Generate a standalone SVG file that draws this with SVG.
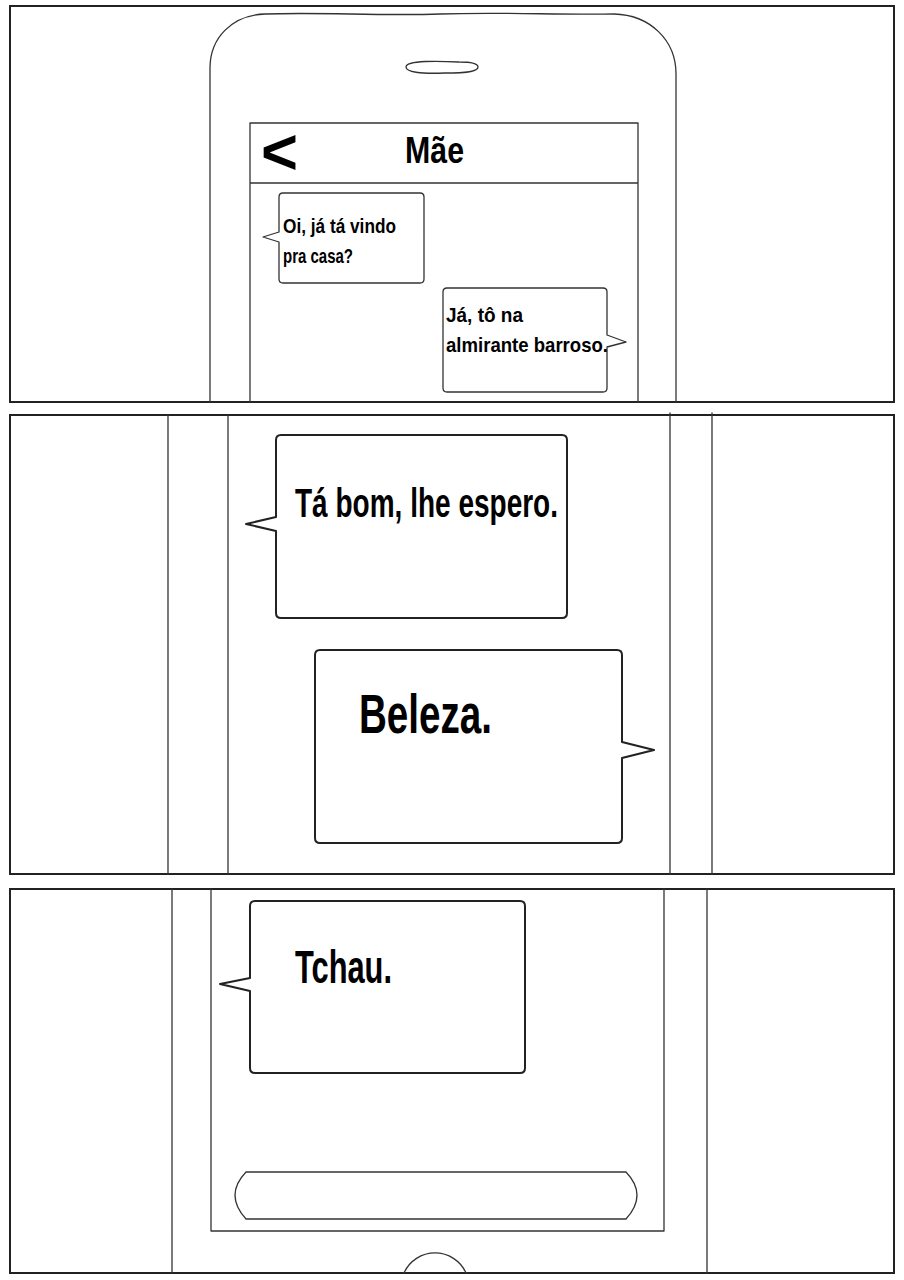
<svg xmlns="http://www.w3.org/2000/svg" width="904" height="1280" viewBox="0 0 904 1280">
<style>
.frame{fill:#fff;stroke:#222;stroke-width:2}
.phone{fill:none;stroke:#333;stroke-width:1.3;stroke-linecap:round;stroke-linejoin:round}
.bub{fill:#fff;stroke:#222;stroke-width:2;stroke-linejoin:round}
.bubs{fill:#fff;stroke:#333;stroke-width:1.3;stroke-linejoin:round}
.t{font-family:"Liberation Sans","DejaVu Sans",sans-serif;font-weight:bold;fill:#000}
</style>
<rect width="904" height="1280" fill="#fff"/>
<g id="panel1">
  <rect class="frame" x="10" y="6" width="884" height="396"/>
  <g id="phone1">
    <path class="phone" d="M210,402 V68 C210,38 232,15 265,14 C320,12 380,16 440,14 C500,12 560,15 614,14 C650,15 676,40 676,74 V402"/>
    <path class="phone" d="M406,67 C406,60 440,61 459,62 C472,62 478,64 478,67 C478,71 470,73 445,73 C420,74 406,72 406,67 Z"/>
    <path class="phone" d="M250,402 V123 H638 V402 M250,183 H638"/>
    <text class="t" x="261" y="174" font-size="64" textLength="37" lengthAdjust="spacingAndGlyphs">&lt;</text>
    <text class="t" x="405" y="163" font-size="37" textLength="59" lengthAdjust="spacingAndGlyphs">Mãe</text>
  </g>
  <g id="msg1">
    <path class="bubs" d="M283,193 H420 Q424,193 424,197 V279 Q424,283 420,283 H283 Q279,283 279,279 V242 L263,237 L279,232 V197 Q279,193 283,193 Z"/>
    <text class="t" x="283" y="233" font-size="21" textLength="113" lengthAdjust="spacingAndGlyphs">Oi, já tá vindo</text>
    <text class="t" x="283" y="263" font-size="21" textLength="70" lengthAdjust="spacingAndGlyphs">pra casa?</text>
  </g>
  <g id="msg2">
    <path class="bubs" d="M447,288 H603 Q607,288 607,292 V335 L626,342 L607,347 V388 Q607,392 603,392 H447 Q443,392 443,388 V292 Q443,288 447,288 Z"/>
    <text class="t" x="446" y="322" font-size="21" textLength="77" lengthAdjust="spacingAndGlyphs">Já, tô na</text>
    <text class="t" x="446" y="352" font-size="21" textLength="162" lengthAdjust="spacingAndGlyphs">almirante barroso.</text>
  </g>
</g>
<g id="panel2">
  <rect class="frame" x="10" y="415" width="884" height="459"/>
  <g id="phone2">
    <path class="phone" d="M168,415 V874 M228,415 V874 M670,413 V874 M712,413 V874"/>
  </g>
  <g id="msg3">
    <path class="bub" d="M281,435 H562 Q567,435 567,440 V613 Q567,618 562,618 H281 Q276,618 276,613 V531 L246,524 L276,517 V440 Q276,435 281,435 Z"/>
    <text class="t" x="295" y="517" font-size="41" textLength="263" lengthAdjust="spacingAndGlyphs">Tá bom, lhe espero.</text>
  </g>
  <g id="msg4">
    <path class="bub" d="M320,650 H617 Q622,650 622,655 V742 L654,750 L622,758 V838 Q622,843 617,843 H320 Q315,843 315,838 V655 Q315,650 320,650 Z"/>
    <text class="t" x="359" y="733" font-size="56" textLength="133" lengthAdjust="spacingAndGlyphs">Beleza.</text>
  </g>
</g>
<g id="panel3">
  <rect class="frame" x="10" y="889" width="884" height="384"/>
  <g id="phone3">
    <path class="phone" d="M172,889 V1273 M707,889 V1273 M211,889 V1231 H664 V889"/>
    <path class="phone" d="M404,1273 A34,34 0 0 1 466,1273"/>
  </g>
  <g id="msg5">
    <path class="bub" d="M255,901 H520 Q525,901 525,906 V1068 Q525,1073 520,1073 H255 Q250,1073 250,1068 V991 L220,984 L250,978 V906 Q250,901 255,901 Z"/>
    <text class="t" x="295" y="983" font-size="46" textLength="97" lengthAdjust="spacingAndGlyphs">Tchau.</text>
  </g>
  <g id="input">
    <path class="phone" d="M246,1172 H626 Q648,1195 626,1219 H246 Q224,1195 246,1172 Z"/>
  </g>
</g>
<g id="connectors"/>
</svg>
